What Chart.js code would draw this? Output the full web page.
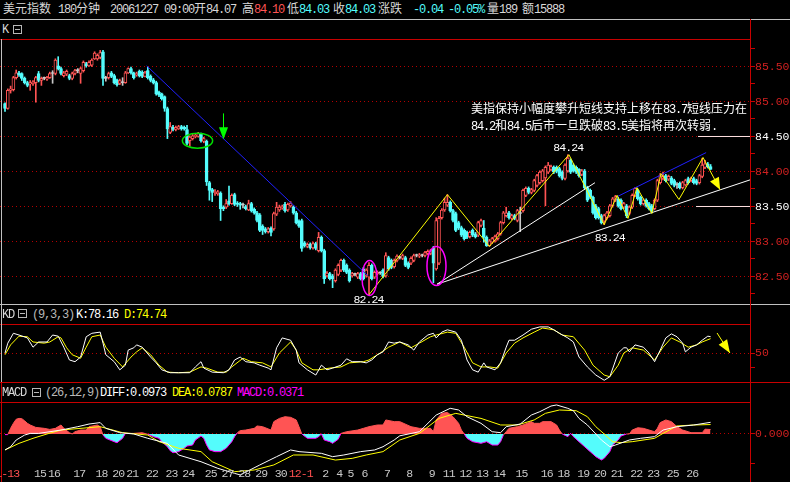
<!DOCTYPE html>
<html>
<head>
<meta charset="utf-8">
<script src="https://cdn.jsdelivr.net/npm/chart.js@4.4.1/dist/chart.umd.min.js"></script>
<style>
html,body{margin:0;padding:0;background:#000;width:790px;height:482px;overflow:hidden}
#stage{position:relative;width:790px;height:482px;background:#000}
canvas{position:absolute;left:0}
.hr{position:absolute;height:1px}
.vr{position:absolute;width:1px}
.t{position:absolute;white-space:nowrap;line-height:14px;height:14px;color:#d8d8d8}
.m{font-family:'Liberation Mono',monospace;font-size:12px;letter-spacing:-1.2px}
.c{font-family:'Noto Sans CJK SC',sans-serif;font-size:12px}
.box{position:absolute;width:7px;height:7px;border:1px solid #b8b8b8}
.box::after{content:'';position:absolute;left:1px;top:3px;width:5px;height:1px;background:#b8b8b8}
</style>
</head>
<body>
<div id="stage">
  <!-- panel frames -->
  <div class="hr" style="top:19px;left:0;width:790px;background:#c0c0c0"></div>
  <div class="hr" style="top:39px;left:0;width:750px;background:#c80000"></div>
  <div class="hr" style="top:304px;left:0;width:790px;background:#c0c0c0"></div>
  <div class="hr" style="top:324px;left:0;width:750px;background:#c80000"></div>
  <div class="hr" style="top:382px;left:0;width:790px;background:#c80000"></div>
  <div class="hr" style="top:402px;left:0;width:750px;background:#c80000"></div>
  <div class="vr" style="left:750px;top:19px;height:463px;background:#c80000"></div>
  <div class="vr" style="left:1px;top:39px;height:343px;background:#c0c0c0"></div>
  <div class="vr" style="left:1px;top:382px;height:100px;background:#c80000"></div>

  <canvas id="price" width="790" height="264" style="top:40px"></canvas>
  <canvas id="kd" width="790" height="57" style="top:325px"></canvas>
  <canvas id="macd" width="790" height="79" style="top:403px"></canvas>

  <!-- title bar -->
  <div class="t" style="left:3px;top:1px"><span class="c">美元指数</span></div>
  <div class="t" style="left:58px;top:1px"><span class="m">180</span><span class="c">分钟</span></div>
  <div class="t" style="left:110px;top:1px"><span class="m">20061227 09:00</span><span class="c">开</span><span class="m" id="hOpen"></span></div>
  <div class="t" style="left:242px;top:1px"><span class="c">高</span><span class="m" id="hHigh" style="color:#ff5454"></span></div>
  <div class="t" style="left:287px;top:1px"><span class="c">低</span><span class="m" id="hLow" style="color:#54fcfc"></span></div>
  <div class="t" style="left:333px;top:1px"><span class="c">收</span><span class="m" id="hClose" style="color:#54fcfc"></span></div>
  <div class="t" style="left:378px;top:1px"><span class="c">涨跌</span></div>
  <div class="t" style="left:413px;top:1px"><span class="m" id="hChg" style="color:#54fcfc"></span></div>
  <div class="t" style="left:448px;top:1px"><span class="m" id="hPct" style="color:#54fcfc"></span></div>
  <div class="t" style="left:487px;top:1px"><span class="c">量</span><span class="m">189</span></div>
  <div class="t" style="left:522px;top:1px"><span class="c">额</span><span class="m">15888</span></div>

  <!-- panel captions -->
  <div class="t" style="left:2px;top:21px"><span class="m">K</span></div>
  <div class="box" style="left:13px;top:25px"></div>

  <div class="t" style="left:2px;top:306px"><span class="m">KD</span></div>
  <div class="box" style="left:18px;top:309px"></div>
  <div class="t" style="left:32px;top:306px;color:#b8b8b8"><span class="m">(9,3,3)</span></div>
  <div class="t" style="left:76px;top:306px;color:#ffffff"><span class="m" id="kdK"></span></div>
  <div class="t" style="left:124px;top:306px;color:#ffff00"><span class="m" id="kdD"></span></div>

  <div class="t" style="left:2px;top:384px"><span class="m">MACD</span></div>
  <div class="box" style="left:32px;top:388px"></div>
  <div class="t" style="left:45px;top:384px;color:#b8b8b8"><span class="m">(26,12,9)</span></div>
  <div class="t" style="left:100px;top:384px;color:#ffffff"><span class="m" id="mDiff"></span></div>
  <div class="t" style="left:172px;top:384px;color:#ffff00"><span class="m" id="mDea"></span></div>
  <div class="t" style="left:237px;top:384px;color:#ff00ff"><span class="m" id="mMacd"></span></div>

  <!-- analyst note -->
  <div class="t" style="left:471px;top:101px;color:#ffffff"><span class="c">美指保持小幅度攀升短线支持上移在</span><span class="m">83.7</span><span class="c">短线压力在</span></div>
  <div class="t" style="left:471px;top:118px;color:#ffffff"><span class="m">84.2</span><span class="c">和</span><span class="m">84.5</span><span class="c">后市一旦跌破</span><span class="m">83.5</span><span class="c">美指将再次转弱</span><span class="m">.</span></div>
</div>

<script>
// ---- 180-minute US dollar index bars ----
const open = [
  84.97,84.90,85.16,85.17,85.34,85.41,85.40,85.33,85.27,85.25,
  85.25,85.27,85.40,85.30,85.33,85.32,85.34,85.40,85.40,85.51,
  85.47,85.37,85.39,85.37,85.33,85.40,85.44,85.40,85.44,85.54,
  85.51,85.52,85.61,85.61,85.63,85.71,85.33,85.34,85.41,85.37,
  85.31,85.26,85.27,85.27,85.41,85.47,85.41,85.38,85.43,85.42,
  85.36,85.44,85.36,85.31,85.27,85.13,85.11,85.07,84.90,84.56,
  84.63,84.60,84.61,84.64,84.63,84.60,84.44,84.47,84.50,84.50,
  84.53,84.43,84.43,83.84,83.74,83.70,83.68,83.69,83.49,83.49,
  83.58,83.54,83.67,83.55,83.54,83.52,83.50,83.45,83.54,83.46,
  83.41,83.38,83.22,83.18,83.14,83.19,83.18,83.39,83.45,83.48,
  83.53,83.45,83.51,83.49,83.41,83.29,83.30,82.98,82.93,82.96,
  82.91,82.97,82.87,83.06,82.87,82.51,82.54,82.51,82.44,82.53,
  82.59,82.73,82.66,82.59,82.51,82.53,82.49,82.54,82.61,82.51,
  82.49,82.66,82.49,82.54,82.55,82.59,82.51,82.77,82.73,82.64,
  82.73,82.77,82.76,82.77,82.69,82.69,82.73,82.80,82.79,82.80,
  82.80,82.83,82.83,82.91,82.61,82.69,83.34,83.45,83.52,83.56,
  83.44,83.40,83.27,83.20,83.16,83.13,83.07,83.16,83.11,83.09,
  83.23,83.19,83.06,82.94,82.99,83.01,83.04,83.11,83.27,83.37,
  83.41,83.33,83.37,83.30,83.40,83.44,83.66,83.76,83.70,83.73,
  83.80,83.84,83.87,83.91,83.99,84.03,84.06,84.06,84.04,83.99,
  83.90,84.01,84.16,84.09,84.06,84.03,83.96,84.01,83.77,83.73,
  83.63,83.51,83.47,83.37,83.29,83.34,83.37,83.51,83.59,83.61,
  83.59,83.49,83.51,83.40,83.49,83.66,83.73,83.63,83.54,83.59,
  83.54,83.51,83.47,83.59,83.84,83.90,83.94,83.89,83.91,83.87,
  83.81,83.83,83.77,83.81,83.90,83.87,83.90,83.87,83.84,83.93,
  84.06,84.11,84.07
];
const high = [
  84.98,85.18,85.22,85.36,85.45,85.43,85.41,85.35,85.29,85.30,
  85.30,85.36,85.43,85.35,85.35,85.36,85.42,85.44,85.61,85.64,
  85.49,85.43,85.45,85.39,85.42,85.46,85.47,85.49,85.58,85.56,
  85.58,85.61,85.71,85.68,85.73,85.73,85.36,85.42,85.43,85.39,
  85.32,85.32,85.34,85.43,85.48,85.49,85.42,85.42,85.45,85.44,
  85.43,85.49,85.38,85.33,85.29,85.15,85.12,85.08,84.92,84.70,
  84.66,84.65,84.66,84.66,84.65,84.66,84.51,84.53,84.54,84.56,
  84.55,84.49,84.45,83.86,83.76,83.74,83.73,83.71,83.51,83.60,
  83.79,83.68,83.69,83.57,83.56,83.55,83.52,83.59,83.56,83.48,
  83.43,83.40,83.24,83.20,83.20,83.21,83.42,83.56,83.52,83.52,
  83.56,83.55,83.57,83.51,83.43,83.31,83.32,83.00,82.98,82.98,
  82.99,82.99,83.13,83.08,82.89,82.57,82.56,82.53,82.61,82.68,
  82.75,82.75,82.68,82.61,82.56,82.55,82.56,82.56,82.63,82.61,
  82.70,82.68,82.58,82.58,82.57,82.61,82.84,82.79,82.75,82.75,
  82.81,82.79,82.82,82.79,82.71,82.78,82.82,82.82,82.83,82.82,
  82.86,82.88,82.89,82.93,83.34,83.36,83.47,83.62,83.67,83.58,
  83.46,83.42,83.29,83.22,83.18,83.15,83.15,83.18,83.13,83.29,
  83.32,83.30,83.08,83.03,83.06,83.09,83.13,83.29,83.43,83.49,
  83.43,83.39,83.39,83.46,83.49,83.75,83.78,83.78,83.76,83.89,
  83.96,84.01,84.03,84.08,84.13,84.09,84.08,84.08,84.06,84.01,
  84.11,84.24,84.18,84.11,84.08,84.04,84.03,84.03,83.79,83.75,
  83.65,83.53,83.49,83.39,83.39,83.43,83.53,83.63,83.66,83.63,
  83.61,83.56,83.53,83.51,83.68,83.77,83.75,83.65,83.61,83.61,
  83.56,83.53,83.61,83.89,83.97,83.99,83.96,83.95,83.93,83.89,
  83.84,83.85,83.86,83.89,83.92,83.92,83.92,83.89,83.96,84.19,
  84.16,84.13,84.10
];
const low = [
  84.86,84.89,85.12,85.15,85.32,85.36,85.30,85.25,85.21,85.16,
  85.23,84.99,85.28,85.23,85.31,85.30,85.33,85.26,85.38,85.45,
  85.38,85.35,85.37,85.31,85.31,85.38,85.41,85.26,85.42,85.49,
  85.50,85.50,85.60,85.59,85.61,85.23,85.29,85.32,85.34,85.25,
  85.22,85.24,85.23,85.26,85.40,85.39,85.32,85.36,85.35,85.34,
  85.35,85.32,85.28,85.25,85.09,85.07,85.02,84.86,84.47,84.54,
  84.58,84.58,84.60,84.59,84.59,84.38,84.36,84.45,84.48,84.49,
  84.42,84.41,83.80,83.59,83.57,83.66,83.66,83.30,83.44,83.47,
  83.52,83.53,83.51,83.50,83.46,83.48,83.45,83.44,83.42,83.39,
  83.28,83.14,83.10,83.12,83.12,83.08,83.16,83.37,83.43,83.46,
  83.42,83.43,83.49,83.39,83.25,83.20,82.86,82.92,82.91,82.89,
  82.89,82.88,82.85,82.85,82.40,82.49,82.45,82.34,82.42,82.51,
  82.57,82.57,82.54,82.42,82.49,82.51,82.47,82.45,82.45,82.49,
  82.24,82.45,82.47,82.52,82.53,82.48,82.49,82.59,82.61,82.62,
  82.71,82.75,82.74,82.64,82.61,82.67,82.71,82.78,82.77,82.78,
  82.78,82.81,82.81,82.41,82.59,82.67,83.32,83.43,83.50,83.42,
  83.28,83.14,83.17,83.07,83.02,83.04,83.05,83.07,83.05,83.07,
  83.21,82.99,82.93,82.93,82.97,82.99,83.02,83.09,83.25,83.35,
  83.32,83.31,83.31,83.28,83.14,83.42,83.64,83.68,83.68,83.71,
  83.78,83.82,83.85,83.51,83.97,84.01,83.97,83.98,83.92,83.88,
  83.88,83.99,83.97,83.99,83.97,83.92,83.94,83.75,83.57,83.61,
  83.39,83.32,83.32,83.25,83.24,83.32,83.35,83.49,83.57,83.49,
  83.45,83.47,83.34,83.38,83.47,83.64,83.59,83.52,83.52,83.49,
  83.45,83.41,83.45,83.57,83.82,83.88,83.85,83.87,83.81,83.78,
  83.76,83.75,83.75,83.79,83.82,83.85,83.82,83.81,83.82,83.91,
  84.04,84.05,84.03
];
const close = [
  84.90,85.16,85.18,85.34,85.41,85.38,85.33,85.27,85.23,85.27,
  85.28,85.34,85.30,85.33,85.33,85.34,85.40,85.40,85.59,85.47,
  85.40,85.41,85.43,85.33,85.40,85.44,85.44,85.47,85.56,85.51,
  85.56,85.59,85.69,85.66,85.70,85.33,85.33,85.40,85.36,85.27,
  85.24,85.30,85.27,85.41,85.47,85.41,85.34,85.40,85.37,85.36,
  85.41,85.34,85.30,85.27,85.11,85.09,85.04,84.90,84.61,84.64,
  84.60,84.63,84.64,84.61,84.61,84.40,84.49,84.51,84.52,84.54,
  84.44,84.47,83.85,83.73,83.70,83.71,83.71,83.47,83.47,83.54,
  83.54,83.66,83.53,83.53,83.52,83.52,83.47,83.54,83.44,83.41,
  83.30,83.16,83.16,83.14,83.18,83.13,83.40,83.49,83.49,83.50,
  83.44,83.53,83.55,83.41,83.27,83.22,82.90,82.94,82.96,82.91,
  82.97,82.90,83.06,82.87,82.47,82.55,82.47,82.47,82.59,82.66,
  82.73,82.59,82.56,82.44,82.54,82.53,82.54,82.47,82.47,82.59,
  82.66,82.47,82.56,82.56,82.55,82.50,82.80,82.61,82.63,82.73,
  82.79,82.77,82.80,82.66,82.63,82.76,82.80,82.80,82.81,82.80,
  82.84,82.86,82.87,82.69,83.30,83.33,83.45,83.56,83.56,83.44,
  83.30,83.16,83.19,83.09,83.04,83.06,83.13,83.09,83.07,83.27,
  83.30,83.06,82.94,83.01,83.04,83.07,83.11,83.27,83.41,83.41,
  83.34,83.37,83.33,83.44,83.40,83.73,83.76,83.70,83.74,83.87,
  83.94,83.99,84.01,84.06,84.09,84.07,83.99,84.00,83.94,83.90,
  84.09,84.19,83.99,84.01,83.99,83.94,84.01,83.77,83.59,83.63,
  83.41,83.34,83.34,83.27,83.37,83.41,83.51,83.61,83.64,83.51,
  83.47,83.54,83.37,83.49,83.66,83.76,83.61,83.54,83.59,83.51,
  83.47,83.44,83.59,83.87,83.94,83.93,83.87,83.93,83.83,83.80,
  83.81,83.77,83.84,83.87,83.84,83.90,83.84,83.83,83.94,84.09,
  84.11,84.07,84.03
];

// first bar of each session and its date label
const dayLabels   = ['11-13','15','16','17','18','20','21','22','23','24','25','27','28','29','30','12-1','2','4','5','6','7','8','9','11','12','13','14','15','16','18','19','20','21','22','23','25','26'];
const dayStartBar = [-5,11,16,25,33,39,44,51,58,64,72,78,84,90,97,102,114,119,123,128,136,144,152,157,163,169,175,183,192,198,205,211,217,224,230,237,244];

// price axis ticks; the two levels drawn as horizontal lines
const priceTicks = [82.25,82.5,82.75,83,83.25,83.5,83.75,84,84.25,84.5,84.75,85,85.25,85.5,85.75];
const keyLevels = [83.5, 84.5];

// KD(9,3,3): [bar, value]
const kLine = [[0,50],[1,67],[3,84],[5,81],[8,76],[10,60],[12,69],[15,69],[17,81],[19,79],[21,60],[23,38],[25,35],[27,43],[29,78],[31,84],[34,86],[35,67],[36,47],[39,35],[41,21],[43,29],[44,55],[46,59],[47,64],[49,60],[52,43],[54,33],[56,21],[59,16],[62,16],[66,16],[68,26],[70,35],[71,24],[74,17],[78,16],[80,21],[82,38],[84,43],[86,35],[89,33],[91,29],[94,24],[95,21],[97,59],[99,76],[102,72],[104,55],[105,33],[108,21],[111,12],[113,29],[115,21],[117,24],[120,29],[122,40],[124,35],[127,35],[129,33],[131,38],[133,47],[135,52],[137,69],[139,67],[141,69],[144,64],[146,55],[148,69],[151,81],[153,84],[154,76],[156,86],[158,90],[161,86],[163,72],[165,38],[167,21],[169,17],[171,33],[172,26],[175,21],[177,33],[179,60],[180,72],[182,72],[185,81],[188,91],[191,95],[194,95],[196,90],[198,84],[201,76],[203,69],[205,43],[208,26],[211,12],[214,3],[216,9],[219,50],[221,59],[222,59],[223,52],[225,64],[228,60],[230,50],[232,35],[234,55],[236,76],[238,83],[240,78],[242,67],[243,52],[245,60],[247,64],[249,72],[251,79],[252,78.16]];
const dLine = [[0,47],[2,64],[5,79],[8,78],[10,69],[14,67],[16,69],[19,78],[20,76],[22,59],[24,47],[27,41],[29,60],[31,78],[34,81],[36,60],[39,41],[42,26],[45,43],[47,52],[49,59],[52,47],[55,29],[58,17],[62,16],[66,17],[70,26],[72,24],[76,17],[79,17],[81,26],[85,41],[88,35],[92,33],[95,26],[98,50],[102,69],[104,55],[106,33],[110,21],[112,21],[116,24],[120,26],[123,33],[128,35],[130,38],[134,50],[137,60],[141,69],[145,59],[148,67],[152,78],[154,81],[158,86],[161,84],[164,60],[167,33],[170,26],[173,26],[176,24],[179,50],[182,67],[185,76],[189,86],[192,93],[196,90],[199,81],[203,78],[207,55],[210,29],[214,12],[216,9],[219,29],[221,50],[224,59],[228,55],[232,38],[235,60],[238,76],[241,69],[244,60],[247,64],[249,69],[252,74.74]];
const kdTicks = [25, 50];

// MACD(26,12,9): [bar, value]
const macdBars = [[0,-0.005],[1,-0.005],[2,0.047],[3,0.089],[4,0.123],[5,0.130],[6,0.128],[7,0.110],[8,0.089],[9,0.075],[11,0.055],[14,0.047],[16,0.038],[18,0.047],[20,0.075],[21,0.047],[23,0.011],[24,0],[25,0.019],[27,0.033],[29,0.033],[30,0.061],[33,0.075],[34,0.061],[35,-0.009],[36,-0.036],[39,-0.064],[40,-0.073],[42,-0.036],[43,0.005],[46,0.005],[49,0.011],[51,-0.003],[53,-0.022],[55,-0.036],[56,-0.064],[58,-0.106],[59,-0.139],[60,-0.156],[62,-0.147],[64,-0.119],[65,-0.100],[67,-0.092],[68,-0.050],[70,-0.017],[71,-0.036],[72,-0.092],[73,-0.133],[75,-0.147],[77,-0.147],[79,-0.119],[81,-0.064],[82,-0.022],[83,0.011],[84,0.028],[86,0.033],[89,0.047],[90,0.067],[92,0.061],[95,0.033],[96,0.103],[98,0.130],[100,0.144],[102,0.139],[104,0.117],[105,0.061],[106,0],[108,-0.036],[111,-0.036],[112,-0.022],[113,0],[114,-0.050],[116,-0.064],[117,-0.078],[119,-0.044],[120,0.005],[122,0.019],[126,0.033],[128,0.047],[130,0.061],[133,0.075],[135,0.075],[136,0.117],[139,0.103],[141,0.103],[145,0.061],[148,0.047],[152,0.047],[153,0.019],[154,0.117],[156,0.172],[158,0.180],[160,0.144],[162,0.089],[163,0.033],[164,0],[165,-0.036],[167,-0.064],[170,-0.078],[172,-0.064],[174,-0.092],[176,-0.092],[177,-0.064],[178,-0.009],[179,0.019],[180,0.047],[183,0.061],[185,0.075],[188,0.103],[189,0.089],[191,0.089],[192,0.103],[195,0.103],[197,0.075],[198,0.033],[199,0],[201,-0.022],[202,0.005],[203,-0.022],[205,-0.064],[207,-0.106],[209,-0.147],[211,-0.189],[213,-0.217],[214,-0.203],[216,-0.147],[217,-0.092],[219,-0.050],[220,-0.017],[222,0],[223,0],[224,0.033],[226,0.052],[228,0.047],[230,0.033],[232,0.019],[233,0.047],[234,0.095],[236,0.117],[238,0.103],[240,0.061],[242,0.033],[244,0.019],[245,0.011],[249,0.011],[250,0.040],[252,0.0371]];
const diffLine = [[0,-0.133],[2,-0.106],[4,-0.050],[7,-0.009],[9,0.005],[12,0.005],[20,0.033],[26,0.061],[30,0.083],[34,0.095],[36,0.047],[41,0.011],[46,0],[51,-0.036],[58,-0.078],[62,-0.175],[70,-0.231],[76,-0.286],[82,-0.328],[84,-0.341],[91,-0.258],[97,-0.189],[102,-0.133],[105,-0.147],[113,-0.161],[117,-0.189],[121,-0.175],[127,-0.147],[132,-0.133],[135,-0.106],[139,-0.050],[141,-0.015],[148,0.019],[154,0.158],[159,0.214],[162,0.200],[165,0.144],[170,0.089],[174,0.019],[177,0.011],[179,0.061],[184,0.083],[188,0.158],[191,0.186],[195,0.233],[197,0.242],[201,0.214],[203,0.194],[205,0.130],[208,0.075],[211,0],[213,-0.050],[216,-0.106],[218,-0.092],[223,-0.050],[227,-0.036],[232,-0.022],[235,0.033],[240,0.061],[246,0.075],[252,0.0973]];
const deaLine = [[0,-0.133],[5,-0.078],[10,-0.036],[15,0],[20,0.033],[34,0.061],[42,0.011],[51,-0.009],[55,-0.064],[62,-0.119],[70,-0.147],[74,-0.231],[82,-0.314],[89,-0.300],[96,-0.258],[103,-0.175],[110,-0.175],[118,-0.217],[124,-0.203],[129,-0.175],[135,-0.147],[141,-0.050],[148,0.005],[155,0.130],[161,0.172],[170,0.130],[177,0.075],[183,0.075],[189,0.117],[193,0.172],[198,0.200],[204,0.194],[208,0.144],[211,0.061],[214,0],[217,-0.064],[220,-0.072],[224,-0.064],[232,-0.036],[235,0.005],[240,0.067],[246,0.075],[252,0.0787]];
const macdTicks = [-0.25, 0];

// hand-drawn study lines: [bar, price]
const downTrend    = [[50.6,85.51],[129.6,82.51]];
const channelTop   = [[218.6,83.64],[250.4,84.27]];
const supportSteep = [[154.3,82.39],[210.7,83.84]];
const supportWide  = [[154.3,82.39],[266.8,83.89]];
const zigzag = [[130,82.24],[158,83.67],[173,82.93],[201.4,84.24],[214,83.24],[218.6,83.66],[222.5,83.33],[225.7,83.77],[231,83.40],[234.3,83.97],[240.7,83.60],[249.3,84.20],[255.4,83.74]];
const levelStart = [246.8, 247.5];
const sellSignal = [[77.9,84.83],[77.9,84.46]];
const kdArrow = [[254.3,84.5],[258.9,50]];

// ---- drawing ----
const N = close.length;
const LAST = N - 1;
const X_MIN = -1.786, X_MAX = 266.07;
const RED = '#ff5454', CYAN = '#54fcfc', FLAT = '#c8c8c8';
const AXIS_RED = '#c80000', DOT_RED = '#b40000', LABEL_RED = '#d02020';
const tone = i => close[i] > open[i] ? RED : close[i] < open[i] ? CYAN : FLAT;
const pts = arr => arr.map(([x, y]) => ({x, y}));
const isHalf = v => Math.abs(v * 2 - Math.round(v * 2)) < 1e-6;

// header and caption values
const chg = close[LAST] - close[LAST - 1];
document.getElementById('hOpen').textContent = open[LAST].toFixed(2);
document.getElementById('hHigh').textContent = high[LAST].toFixed(2);
document.getElementById('hLow').textContent = low[LAST].toFixed(2);
document.getElementById('hClose').textContent = close[LAST].toFixed(2);
document.getElementById('hChg').textContent = chg.toFixed(2);
document.getElementById('hPct').textContent = (chg / close[LAST - 1] * 100).toFixed(2) + '%';
document.getElementById('kdK').textContent = 'K:' + kLine[kLine.length - 1][1].toFixed(2);
document.getElementById('kdD').textContent = 'D:' + dLine[dLine.length - 1][1].toFixed(2);
document.getElementById('mDiff').textContent = 'DIFF:' + diffLine[diffLine.length - 1][1].toFixed(4);
document.getElementById('mDea').textContent = 'DEA:' + deaLine[deaLine.length - 1][1].toFixed(4);
document.getElementById('mMacd').textContent = 'MACD:' + macdBars[macdBars.length - 1][1].toFixed(4);

// monospaced text on a fixed 6px cell
function monoText(ctx, text, x, y, color, align) {
  ctx.font = '11.5px "Liberation Mono"';
  ctx.fillStyle = color;
  ctx.textBaseline = 'middle';
  ctx.textAlign = 'center';
  let cx = (align === 'center' ? x - text.length * 3 : x) + 3;
  for (const ch of text) { ctx.fillText(ch, cx, y); cx += 6; }
}

function arrowHead(ctx, x0, y0, x1, y1, len, half, color) {
  const a = Math.atan2(y1 - y0, x1 - x0);
  const bx = x1 - len * Math.cos(a), by = y1 - len * Math.sin(a);
  ctx.beginPath();
  ctx.moveTo(x1, y1);
  ctx.lineTo(bx + half * Math.sin(a), by - half * Math.cos(a));
  ctx.lineTo(bx - half * Math.sin(a), by + half * Math.cos(a));
  ctx.closePath();
  ctx.fillStyle = color;
  ctx.fill();
}

const xAxis = { type: 'linear', display: false, min: X_MIN, max: X_MAX, offset: false };
function rightAxis(min, max, tickValues, labelOf, colorOf) {
  return {
    position: 'right', min, max,
    afterBuildTicks(s) { s.ticks = tickValues.map(v => ({value: v})); },
    afterFit(s) { s.width = 40; s.paddingTop = 0; s.paddingBottom = 0; },
    grid: {
      color: c => (c.tick && labelOf(c.tick.value) !== '') ? DOT_RED : 'rgba(0,0,0,0)',
      tickColor: AXIS_RED, tickLength: 5, lineWidth: 1, drawOnChartArea: true
    },
    border: { color: AXIS_RED, width: 1, dash: [1, 3] },
    ticks: {
      padding: 0, font: { family: 'Liberation Mono', size: 11.5 },
      color: c => colorOf(c.tick.value),
      callback: v => labelOf(v)
    }
  };
}
const baseOptions = {
  responsive: false, animation: false, devicePixelRatio: 1, events: [],
  layout: { padding: 0, autoPadding: false },
  plugins: { legend: { display: false }, tooltip: { enabled: false } }
};
const lineDs = (data, color, extra) => Object.assign({
  type: 'line', data: pts(data), borderColor: color, borderWidth: 1,
  pointRadius: 0, tension: 0, fill: false, order: 1
}, extra || {});

// rings and value tags on the price panel
const rings = [
  { at: 68.75, price: 84.44, spanBars: 5.4, spanPrice: 0.107, color: '#00e000' },
  { at: 130.2, price: 82.48, spanBars: 2.7, spanPrice: 0.25, color: '#ff00ff' },
  { at: 154.1, price: 82.65, spanBars: 3.4, spanPrice: 0.28, color: '#ff00ff' }
];
const tags = [
  { bar: 130, value: low[130], dx: 0, dy: 5 },
  { bar: 201, value: high[201], dx: 1, dy: -7 },
  { bar: 214, value: low[214], dx: 6, dy: 13 }
];

const priceMarks = {
  id: 'priceMarks',
  afterDatasetsDraw(chart) {
    const { ctx, scales: { x, y } } = chart;
    ctx.save();
    ctx.lineWidth = 1.5;
    for (const r of rings) {
      const cx = x.getPixelForValue(r.at), cy = y.getPixelForValue(r.price);
      const rx = Math.abs(x.getPixelForValue(r.at + r.spanBars) - cx);
      const ry = Math.abs(y.getPixelForValue(r.price + r.spanPrice) - cy);
      ctx.beginPath();
      ctx.ellipse(cx, cy, rx, ry, 0, 0, Math.PI * 2);
      ctx.strokeStyle = r.color;
      ctx.stroke();
    }
    // sell arrow
    const sx = Math.round(x.getPixelForValue(sellSignal[0][0])) + 0.5;
    const sy0 = y.getPixelForValue(sellSignal[0][1]);
    const sy1 = y.getPixelForValue(sellSignal[1][1]);
    ctx.lineWidth = 1;
    ctx.strokeStyle = '#00ff00';
    ctx.beginPath(); ctx.moveTo(sx, sy0); ctx.lineTo(sx, sy1 - 10); ctx.stroke();
    arrowHead(ctx, sx, sy0, sx, sy1, 12, 4.5, '#00ff00');
    // head of the projected swing
    const a = zigzag[zigzag.length - 2], b = zigzag[zigzag.length - 1];
    arrowHead(ctx, x.getPixelForValue(a[0]), y.getPixelForValue(a[1]),
      x.getPixelForValue(b[0]), y.getPixelForValue(b[1]), 12, 5, '#ffff00');
    for (const t of tags) {
      monoText(ctx, t.value.toFixed(2), x.getPixelForValue(t.bar) + t.dx,
        y.getPixelForValue(t.value) + t.dy, '#ffffff', 'center');
    }
    ctx.restore();
  }
};

// half-pixel offset keeps the horizontal level lines on a single pixel row
const PRICE_MIN = 82.1 + 0.5 / 70, PRICE_MAX = 85.8714 + 0.5 / 70;

new Chart(document.getElementById('price'), {
  type: 'bar',
  data: {
    datasets: [
      lineDs(zigzag, '#ffff00'),
      lineDs(downTrend, '#2020ff'),
      lineDs(channelTop, '#2020ff'),
      lineDs(supportSteep, '#ffffff'),
      lineDs(supportWide, '#ffffff'),
      lineDs([[levelStart[0], keyLevels[0]], [X_MAX, keyLevels[0]]], '#ffe0e0'),
      lineDs([[levelStart[1], keyLevels[1]], [X_MAX, keyLevels[1]]], '#ffe0e0'),
      {
        type: 'bar', order: 2, grouped: false, barThickness: 3, minBarLength: 1,
        borderSkipped: false, borderWidth: 1,
        data: close.map((c, i) => ({ x: i, y: [open[i], c] })),
        borderColor: c => tone(c.dataIndex),
        backgroundColor: c => tone(c.dataIndex) === RED ? '#000000' : tone(c.dataIndex)
      },
      {
        type: 'bar', order: 3, grouped: false, barThickness: 1, borderWidth: 0,
        data: close.map((c, i) => ({ x: i, y: [low[i], high[i]] })),
        backgroundColor: c => tone(c.dataIndex)
      }
    ]
  },
  options: Object.assign({}, baseOptions, {
    scales: {
      x: xAxis,
      y: rightAxis(PRICE_MIN, PRICE_MAX, priceTicks,
        v => isHalf(v) ? v.toFixed(2) : '',
        v => keyLevels.some(k => Math.abs(k - v) < 1e-6) ? '#ffffff' : LABEL_RED)
    }
  }),
  plugins: [priceMarks]
});

const kdMarks = {
  id: 'kdMarks',
  afterDatasetsDraw(chart) {
    const { ctx, scales: { x, y } } = chart;
    const x0 = x.getPixelForValue(kdArrow[0][0]), y0 = y.getPixelForValue(kdArrow[0][1]);
    const x1 = x.getPixelForValue(kdArrow[1][0]), y1 = y.getPixelForValue(kdArrow[1][1]);
    ctx.save();
    ctx.strokeStyle = '#ffff00'; ctx.lineWidth = 1;
    ctx.beginPath(); ctx.moveTo(x0, y0); ctx.lineTo(x1, y1); ctx.stroke();
    arrowHead(ctx, x0, y0, x1, y1, 13, 5, '#ffff00');
    ctx.restore();
  }
};

new Chart(document.getElementById('kd'), {
  type: 'line',
  data: { datasets: [ lineDs(kLine, '#ffffff'), lineDs(dLine, '#ffff00') ] },
  options: Object.assign({}, baseOptions, {
    scales: {
      x: xAxis,
      y: rightAxis(0, 98.28, kdTicks, v => v === 50 ? '50' : '', () => LABEL_RED)
    }
  }),
  plugins: [kdMarks]
});

const dateRow = {
  id: 'dateRow',
  afterDraw(chart) {
    const { ctx, scales: { x } } = chart;
    ctx.save();
    dayLabels.forEach((txt, k) => {
      const px = x.getPixelForValue(dayStartBar[k]) - 1.4;
      monoText(ctx, txt, px, 71, txt.includes('-') ? '#ff5050' : '#c8c8c8', 'left');
    });
    ctx.restore();
  }
};

new Chart(document.getElementById('macd'), {
  type: 'line',
  data: {
    datasets: [
      lineDs(diffLine, '#ffffff', { order: 1 }),
      lineDs(deaLine, '#ffff00', { order: 1 }),
      lineDs(macdBars, '#ff00ff', {
        order: 2,
        fill: { target: 'origin', above: RED, below: CYAN },
        segment: { borderColor: s => (s.p0.parsed.y + s.p1.parsed.y) >= 0 ? RED : '#ff00ff' }
      })
    ]
  },
  options: Object.assign({}, baseOptions, {
    scales: {
      x: xAxis,
      y: rightAxis(-0.4, 0.2583, macdTicks, v => v === 0 ? '0.000' : '', () => LABEL_RED)
    }
  }),
  plugins: [dateRow]
});
</script>
</body>
</html>
